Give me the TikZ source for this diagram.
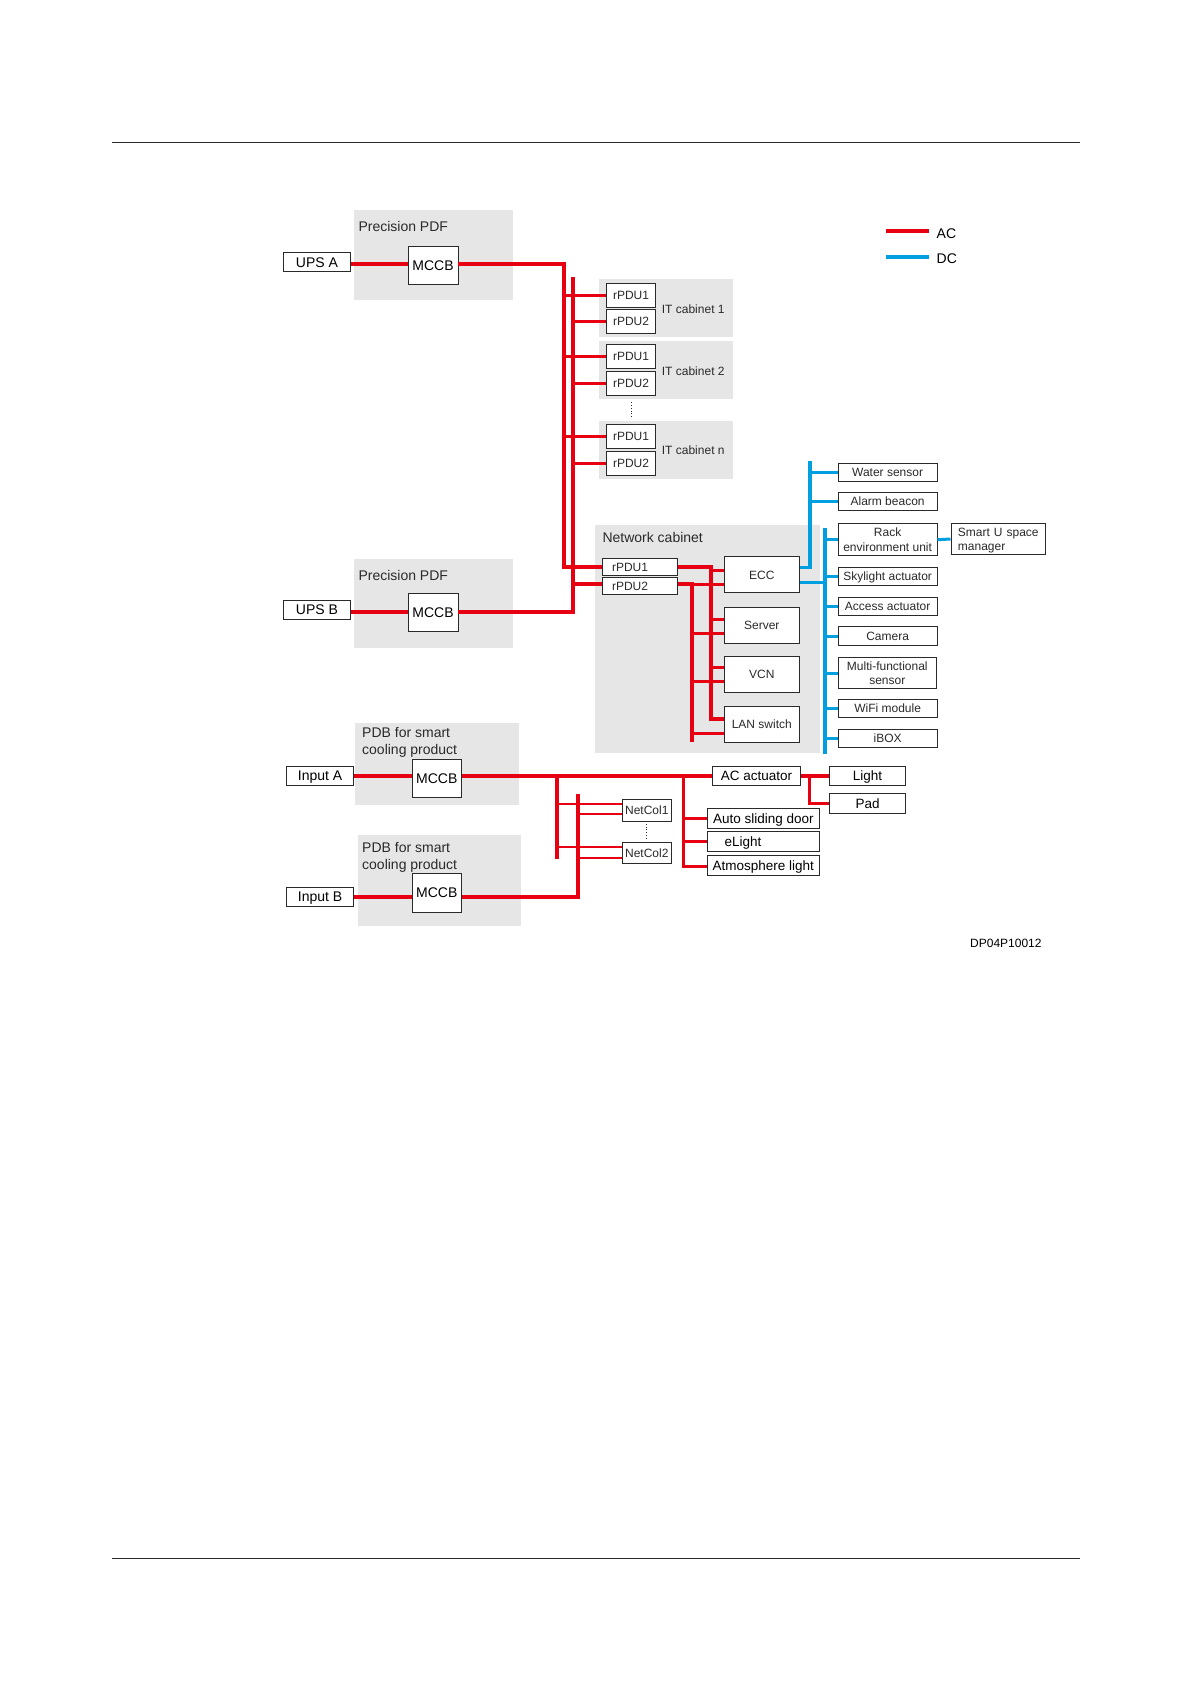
\documentclass[tikz,border=0pt]{standalone}
\usepackage{fontspec}
\setmainfont{Liberation Sans}
\usetikzlibrary{positioning}
\definecolor{acred}{HTML}{E60012}
\definecolor{dcblue}{HTML}{00A0E0}
\definecolor{groupgrey}{HTML}{E6E6E6}
\definecolor{inkgrey}{HTML}{2A2A2A}
\tikzstyle{group} = [rectangle, fill=groupgrey, draw=none, inner sep=0pt, anchor=north west]
\tikzstyle{grouplabel} = [inner sep=0pt, anchor=west, align=left, text=inkgrey, font=\fontsize{14}{17.3}\selectfont]
\tikzstyle{smalllabel} = [inner sep=0pt, anchor=west, text=inkgrey, font=\fontsize{12}{14}\selectfont]
\tikzstyle{bigbox} = [rectangle, draw=inkgrey, line width=0.9pt, fill=white, inner sep=0pt, align=center, text=black, text height=10pt, text depth=0pt, font=\fontsize{14}{16}\selectfont]
\tikzstyle{smallbox} = [rectangle, draw=inkgrey, line width=0.9pt, fill=white, inner sep=0pt, align=center, text=inkgrey, text height=8.6pt, text depth=0pt, font=\fontsize{12}{14.3}\selectfont]
\tikzstyle{twoline} = [text height=22.9pt]
\tikzstyle{mccb} = [bigbox, minimum width=50, minimum height=38]
\tikzstyle{source} = [bigbox, minimum width=67.4, minimum height=19.2]
\tikzstyle{rpdu} = [smallbox, minimum width=49.4, minimum height=24]
\tikzstyle{rpdunet} = [smallbox, inner xsep=9.7, text width=56, align=left, minimum height=17]
\tikzstyle{device} = [smallbox, minimum width=75.7, minimum height=36]
\tikzstyle{sensor} = [smallbox, minimum width=98.7, minimum height=18.4]
\tikzstyle{load} = [bigbox, font=\fontsize{13.5}{16}\selectfont, minimum width=112.1, minimum height=20]
\tikzstyle{netcol} = [smallbox, minimum width=49.2]
\tikzstyle{acline} = [line width=4pt, acred]
\tikzstyle{acstub} = [line width=3pt, acred]
\tikzstyle{acthin} = [line width=2pt, acred]
\tikzstyle{dcline} = [line width=3.6pt, dcblue]
\tikzstyle{dcstub} = [line width=3pt, dcblue]
\tikzstyle{dotline} = [line width=0.8pt, dotted, inkgrey]
\tikzstyle{pagerule} = [line width=1pt, inkgrey]
\begin{document}
\begin{tikzpicture}[x=1pt, y=-1pt]
\useasboundingbox (0,0) rectangle (1191,1684);

% Page rules
\coordinate (ruletopl) at (112,142);
\coordinate (ruletopr) at (1080,142);
\coordinate (rulebotl) at (112,1558);
\coordinate (rulebotr) at (1080,1558);
\draw [pagerule] (ruletopl) -- (ruletopr);
\draw [pagerule] (rulebotl) -- (rulebotr);

% Grey groups
\node (pdfone) [group, minimum width=159, minimum height=90] at (354,210) {};
\node (pdftwo) [group, minimum width=159, minimum height=88.7] at (354,559) {};
\node (cabone) [group, minimum width=134, minimum height=57.6] at (598.7,278.7) {};
\node (cabtwo) [group, minimum width=134, minimum height=57.7] at (598.7,341) {};
\node (cabn) [group, minimum width=134, minimum height=57.3] at (598.7,421) {};
\node (netcab) [group, minimum width=225, minimum height=227.7] at (595,525) {};
\node (pdbone) [group, minimum width=164.5, minimum height=82] at (354.4,722.3) {};
\node (pdbtwo) [group, minimum width=163.2, minimum height=91.4] at (358,834.3) {};

% Group labels
\node (pdfonelabel) [grouplabel] at (358.3,226.7) {Precision PDF};
\node (pdftwolabel) [grouplabel] at (358.3,575) {Precision PDF};
\node (netcablabel) [grouplabel] at (602.3,537.7) {Network cabinet};
\node (pdbonelabel) [grouplabel] at (362,742.7) {PDB for smart\\cooling product};
\node (pdbtwolabel) [grouplabel] at (362,857.2) {PDB for smart\\cooling product};
\node (cabonelabel) [smalllabel] at (661.7,309) {IT cabinet 1};
\node (cabtwolabel) [smalllabel] at (661.7,371) {IT cabinet 2};
\node (cabnlabel) [smalllabel] at (661.7,450) {IT cabinet n};

% Sources and breakers
\node (upsa) [source] at (317,262.2) {UPS A};
\node (upsb) [source] at (317,609.6) {UPS B};
\node (inputa) [source, minimum width=67] at (320.1,775.6) {Input A};
\node (inputb) [source, minimum width=67] at (320.1,896.6) {Input B};
\node (mccbone) [mccb] at (433,265) {MCCB};
\node (mccbtwo) [mccb] at (433,612.2) {MCCB};
\node (mccbthree) [mccb, minimum width=49.6] at (436.8,778.5) {MCCB};
\node (mccbfour) [mccb, minimum width=49.6, minimum height=39] at (436.8,892.8) {MCCB};

% IT cabinets
\node (oneone) [rpdu] at (631,295) {rPDU1};
\node (onetwo) [rpdu] at (631,321.3) {rPDU2};
\node (twoone) [rpdu] at (631,356.3) {rPDU1};
\node (twotwo) [rpdu] at (631,383.3) {rPDU2};
\node (none) [rpdu] at (631,436.3) {rPDU1};
\node (ntwo) [rpdu] at (631,463) {rPDU2};

% Network cabinet
\node (netone) [rpdunet] at (640,567.2) {rPDU1};
\node (nettwo) [rpdunet] at (640,586.3) {rPDU2};
\node (ecc) [device] at (761.8,574.7) {ECC};
\node (server) [device] at (761.8,625.3) {Server};
\node (vcn) [device] at (761.8,674.3) {VCN};
\node (lan) [device] at (761.8,724.3) {LAN switch};

% Sensors
\node (water) [sensor] at (887.6,472.5) {Water sensor};
\node (alarm) [sensor] at (887.6,501.5) {Alarm beacon};
\node (rack) [sensor, twoline, minimum height=32] at (887.6,539.7) {Rack\\environment unit};
\node (smartu) [smallbox, text depth=14.3pt, inner xsep=7, text width=80.7, align=left, minimum height=31.4] at (998.3,539) {Smart U space\\manager};
\node (skylight) [sensor] at (887.6,576.5) {Skylight actuator};
\node (access) [sensor] at (887.6,606.5) {Access actuator};
\node (camera) [sensor] at (887.6,636) {Camera};
\node (multi) [sensor, twoline, minimum width=98, minimum height=31.4] at (887.3,673) {Multi-functional\\sensor};
\node (wifi) [sensor] at (887.6,708.5) {WiFi module};
\node (ibox) [sensor] at (887.6,738.5) {iBOX};

% Smart cooling and lighting
\node (netcolone) [netcol, minimum height=22.3] at (646.8,810.2) {NetCol1};
\node (netcoltwo) [netcol, minimum height=20.3] at (646.8,852.8) {NetCol2};
\node (acact) [bigbox, font=\fontsize{13.5}{16}\selectfont, minimum width=88, minimum height=19] at (756.5,775.8) {AC actuator};
\node (light) [bigbox, font=\fontsize{13.5}{16}\selectfont, minimum width=75.7, minimum height=19.3] at (867.5,775.6) {Light};
\node (pad) [bigbox, font=\fontsize{13.5}{16}\selectfont, minimum width=75.7, minimum height=20.4] at (867.5,803.5) {Pad};
\node (door) [load] at (763.3,818.5) {Auto sliding door};
\node (elight) [load, inner xsep=17.4, text width=77.3, align=left] at (763.3,841.8) {eLight};
\node (atmos) [load] at (763.3,865) {Atmosphere light};

% Feed to the IT cabinets
\coordinate (busa) at (564.3,264.3);
\coordinate (busbtop) at (573,277);
\coordinate (busb) at (573,611.7);
\coordinate (taptwo) at (573,584.3);
\draw [acline] (upsa.east |- busa) -- (mccbone.west |- busa);
\draw [acline] (mccbone.east |- busa) -- (busa) -- (busa |- netone.west) -- (netone.west);
\draw [acline] (upsb.east |- busb) -- (mccbtwo.west |- busb);
\draw [acline] (mccbtwo.east |- busb) -- (busb) -- (busbtop);
\draw [acline] (taptwo) -- (nettwo.west |- taptwo);
\draw [acstub] (busa |- oneone.west) -- (oneone.west);
\draw [acstub] (busb |- onetwo.west) -- (onetwo.west);
\draw [acstub] (busa |- twoone.west) -- (twoone.west);
\draw [acstub] (busb |- twotwo.west) -- (twotwo.west);
\draw [acstub] (busa |- none.west) -- (none.west);
\draw [acstub] (busb |- ntwo.west) -- (ntwo.west);
\draw [dotline] ([yshift=-6.4pt]twotwo.south) -- ([yshift=7.3pt]none.north);

% Feed inside the network cabinet
\coordinate (neta) at (711.3,567.2);
\coordinate (netacorner) at (711.3,719.3);
\coordinate (netb) at (692,584.3);
\coordinate (netbbot) at (692,741.7);
\draw [acline] (netone.east) -- (neta) -- (netacorner) -- ([yshift=5pt]lan.west);
\draw [acline] (nettwo.east |- netb) -- (netb) -- (netbbot);
\draw [acstub] ([yshift=4.7pt]ecc.west -| neta) -- ([yshift=4.7pt]ecc.west);
\draw [acstub] (netb) -- ([yshift=-9.6pt]ecc.west);
\draw [acstub] ([yshift=6pt]server.west -| neta) -- ([yshift=6pt]server.west);
\draw [acstub] ([yshift=-8.4pt]server.west -| netb) -- ([yshift=-8.4pt]server.west);
\draw [acstub] ([yshift=7pt]vcn.west -| neta) -- ([yshift=7pt]vcn.west);
\draw [acstub] ([yshift=-6.7pt]vcn.west -| netb) -- ([yshift=-6.7pt]vcn.west);
\draw [acstub] ([yshift=-9pt]lan.west -| netb) -- ([yshift=-9pt]lan.west);

% DC side
\coordinate (dcatop) at (810,461);
\coordinate (dcacorner) at (810,567.3);
\coordinate (dcbtop) at (824.7,528.3);
\coordinate (dcbtap) at (824.7,582.3);
\coordinate (dcbbot) at (824.7,753.7);
\draw [dcline] (dcatop) -- (dcacorner) -- (ecc.east |- dcacorner);
\draw [dcline] (dcbtop) -- (dcbbot);
\draw [dcline] (ecc.east |- dcbtap) -- (dcbtap);
\draw [dcstub] (dcatop |- water.west) -- (water.west);
\draw [dcstub] (dcatop |- alarm.west) -- (alarm.west);
\draw [dcstub] (dcbtop |- rack.west) -- (rack.west);
\draw [dcstub] (dcbtop |- skylight.west) -- (skylight.west);
\draw [dcstub] (dcbtop |- access.west) -- (access.west);
\draw [dcstub] (dcbtop |- camera.west) -- (camera.west);
\draw [dcstub] (dcbtop |- multi.west) -- (multi.west);
\draw [dcstub] (dcbtop |- wifi.west) -- (wifi.west);
\draw [dcstub] (dcbtop |- ibox.west) -- (ibox.west);
\draw [dcstub] (rack.east) -- (smartu.west);

% Feed to cooling and lighting
\coordinate (maina) at (557,776);
\coordinate (mainabot) at (557,859);
\coordinate (mainb) at (578,897.3);
\coordinate (mainbtop) at (578,794.3);
\coordinate (branch) at (683.2,776);
\coordinate (branchbot) at (683.2,866);
\coordinate (padturn) at (809,776);
\coordinate (padcorner) at (809,803.3);
\draw [acline] (inputa.east |- maina) -- (mccbthree.west |- maina);
\draw [acline] (mccbthree.east |- maina) -- (acact.west |- maina);
\draw [acline] (maina) -- (mainabot);
\draw [acline] (inputb.east |- mainb) -- (mccbfour.west |- mainb);
\draw [acline] (mccbfour.east |- mainb) -- (mainb) -- (mainbtop);
\draw [acthin] ([yshift=5.9pt]netcolone.west -| maina) -- ([yshift=5.9pt]netcolone.west);
\draw [acthin] ([yshift=-4.1pt]netcolone.west -| mainb) -- ([yshift=-4.1pt]netcolone.west);
\draw [acthin] ([yshift=5.5pt]netcoltwo.west -| maina) -- ([yshift=5.5pt]netcoltwo.west);
\draw [acthin] ([yshift=-4.9pt]netcoltwo.west -| mainb) -- ([yshift=-4.9pt]netcoltwo.west);
\draw [dotline] ([yshift=-2pt]netcolone.south) -- ([yshift=3.4pt]netcoltwo.north);
\draw [acstub] (branch) -- (branchbot) -- (atmos.west |- branchbot);
\draw [acstub] (branch |- door.west) -- (door.west);
\draw [acstub] (branch |- elight.west) -- (elight.west);
\draw [acline] (acact.east |- maina) -- (light.west |- maina);
\draw [acstub] (padturn) -- (padcorner) -- (pad.west |- padcorner);

% Legend
\coordinate (legacstart) at (886,231);
\coordinate (legacend) at (929,231);
\coordinate (legdcstart) at (886,257);
\coordinate (legdcend) at (929,257);
\draw [acline] (legacstart) -- (legacend);
\draw [dcline] (legdcstart) -- (legdcend);
\node (legac) [grouplabel, text=black] at (936.5,234) {AC};
\node (legdc) [grouplabel, text=black] at (936.5,259) {DC};
\node (docid) [smalllabel, text=black] at (970,943) {DP04P10012};

\end{tikzpicture}
\end{document}
